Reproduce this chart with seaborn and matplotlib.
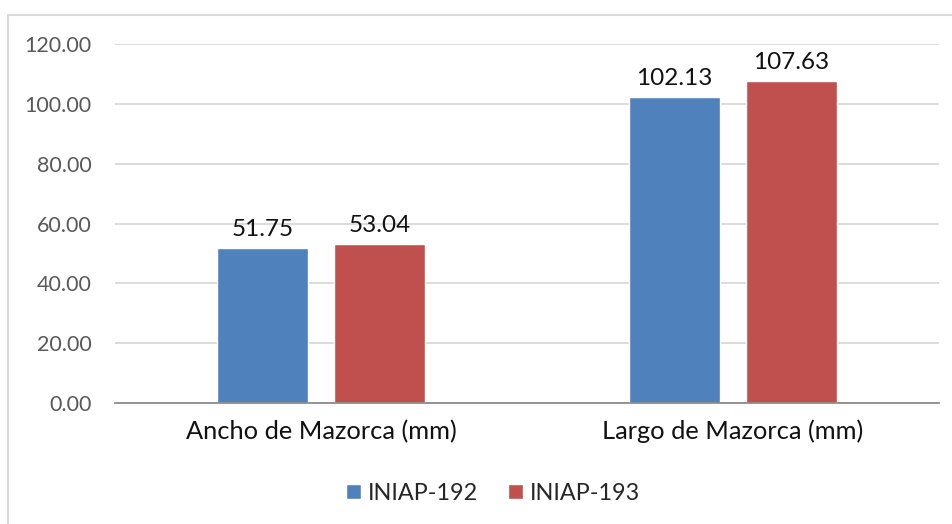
import pandas as pd
import seaborn as sns
from matplotlib import pyplot as plt
from matplotlib.patches import Rectangle

categories = ['Ancho de Mazorca (mm)', 'Largo de Mazorca (mm)']
varieties = ['INIAP-192', 'INIAP-193']
iniap_192 = [51.75, 102.13]
iniap_193 = [53.04, 107.63]
yticks = [0, 20, 40, 60, 80, 100, 120]

df = pd.DataFrame({
    'categoria': categories * 2,
    'variedad': [varieties[0]] * 2 + [varieties[1]] * 2,
    'valor': iniap_192 + iniap_193,
})

sns.set_style('white')
plt.rcParams['font.family'] = ['Lato', 'DejaVu Sans']

fig = plt.figure(figsize=(9.52, 5.24), dpi=100)
# chart border like an Excel chart area
fig.patches.append(Rectangle((8 / 952, -0.1), 1.0, 1.1 - 15 / 524, transform=fig.transFigure,
                             fill=False, edgecolor='#D9D9D9', linewidth=1.5))
ax = fig.add_axes([115 / 952, 121 / 524, 824 / 952, 359 / 524])

sns.barplot(df, x='categoria', y='valor', hue='variedad', palette=['#4F81BD', '#C0504D'],
            width=0.568, gap=0.214, ax=ax, legend=True, saturation=1)

ax.set_ylim(0, 120)
ax.set_xlim(-0.5, 1.5)
ax.set_yticks(yticks)
ax.set_yticklabels([f'{t:.2f}' for t in yticks], color='#595959', fontsize=15.5)
ax.tick_params(axis='y', length=0, pad=17)
ax.tick_params(axis='x', length=0, pad=12, labelsize=18.3, labelcolor='#111111')
ax.set_xlabel('')
ax.set_ylabel('')
ax.grid(axis='y', color='#D9D9D9', linewidth=1.3)
ax.set_axisbelow(True)
for s in ['top', 'right', 'left']:
    ax.spines[s].set_visible(False)
ax.spines['bottom'].set_color('#8C8C8C')
ax.spines['bottom'].set_linewidth(1.3)

for cont in ax.containers:
    ax.bar_label(cont, fmt='%.2f', padding=6, fontsize=17.5, color='#111111')

handles, labels = ax.get_legend_handles_labels()
ax.get_legend().remove()
fig.legend(handles, labels, loc='center', bbox_to_anchor=(493 / 952, 1 - 493 / 524), ncol=2,
           frameon=False, fontsize=16.8, handlelength=0.62, handleheight=0.62,
           handletextpad=0.3, columnspacing=1.3)

fig.savefig('out.png', dpi=100)
